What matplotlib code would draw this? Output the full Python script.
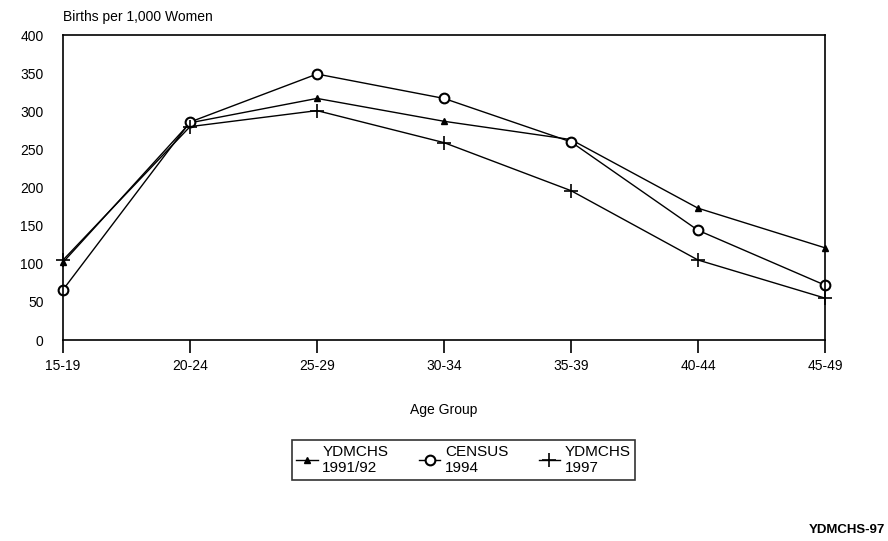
import matplotlib
matplotlib.use('Agg')
import matplotlib.pyplot as plt

plt.rcParams['font.family'] = ['Liberation Sans', 'DejaVu Sans']

age_groups = ['15-19', '20-24', '25-29', '30-34', '35-39', '40-44', '45-49']
ydmchs_9192 = [102, 285, 317, 287, 263, 173, 121]
census_1994 = [66, 286, 349, 317, 260, 144, 72]
ydmchs_1997 = [105, 280, 301, 259, 196, 105, 55]
series_labels = ['YDMCHS\n1991/92', 'CENSUS\n1994', 'YDMCHS\n1997']

fig = plt.figure(figsize=(8.88, 5.41), dpi=100)
ax = fig.add_axes([0.071, 0.3715, 0.858, 0.5635])

x = list(range(len(age_groups)))
ax.plot(x, ydmchs_9192, color='k', lw=1, marker='^', ms=4, mfc='k', label=series_labels[0], clip_on=False)
ax.plot(x, census_1994, color='k', lw=1, marker='o', ms=7, mfc='w', mew=1.5, label=series_labels[1], clip_on=False)
ax.plot(x, ydmchs_1997, color='k', lw=1, marker='+', ms=10, mew=1.2, label=series_labels[2], clip_on=False)

ax.set_xlim(0, 6)
ax.set_ylim(0, 400)
ax.set_xticks(x)
ax.set_xticklabels(age_groups, fontsize=10)
ax.set_yticks(range(0, 401, 50))
ax.tick_params(axis='y', length=0, labelsize=10, pad=14)
ax.tick_params(axis='x', direction='out', length=9, width=1.2, pad=5)
for s in ax.spines.values():
    s.set_linewidth(1.2)

fig.text(0.071, 0.955, 'Births per 1,000 Women', fontsize=10, ha='left', va='bottom')
fig.text(0.5, 0.242, 'Age Group', fontsize=10, ha='center', va='center')
fig.text(0.997, 0.02, 'YDMCHS-97', fontsize=9.5, ha='right', va='center', fontweight='bold')

leg = ax.legend(loc='upper center', bbox_to_anchor=(0.522, 0.2), bbox_transform=fig.transFigure,
                ncol=3, fontsize=11, frameon=True, fancybox=False, edgecolor='k',
                handlelength=1.4, handletextpad=0.3, columnspacing=2.0, borderpad=0.3)
leg.get_frame().set_linewidth(1.2)

fig.savefig('out.png', dpi=100)
